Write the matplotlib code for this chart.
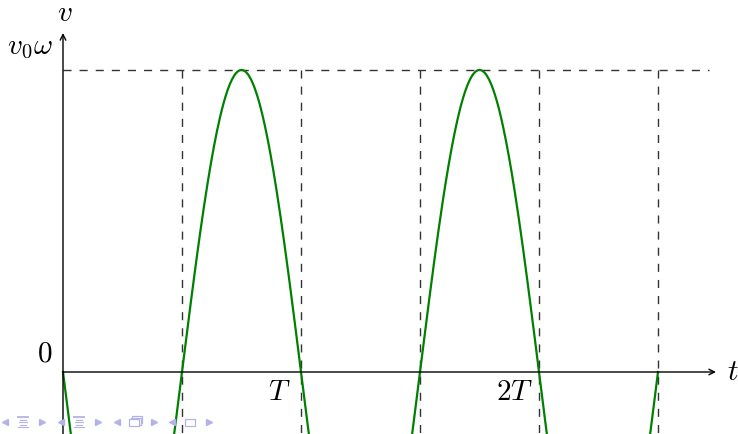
import numpy as np
import matplotlib
matplotlib.use("Agg")
import matplotlib.pyplot as plt
import matplotlib.patches as mpatches

plt.rcParams['mathtext.fontset'] = 'cm'
plt.rcParams['font.family'] = 'serif'
plt.rcParams['font.serif'] = ['DejaVu Serif']

# curve parameters (units: t in T, v in v0*omega)
period = 1.0
amplitude = 1.0
t_end = 2.5
xtick_labels = ["$T$", "$2T$"]
guide_t = [0.5, 1.0, 1.5, 2.0, 2.5]

W, H = 738, 434
ox, oy = 63, 372          # origin in pixels
sx, sy = 238.0, 302.0     # pixels per unit

fig = plt.figure(figsize=(W / 100, H / 100), dpi=100)
ax = fig.add_axes([0, 0, 1, 1])
ax.set_xlim(-ox / sx, (W - ox) / sx)
ax.set_ylim(-(H - oy) / sy, oy / sy)
ax.axis('off')

dash = (0, (5.8, 5.8))
# guides
ax.plot([0, (709 - ox) / sx], [amplitude, amplitude], color='#333333',
        lw=1.0, ls=dash)
for g in guide_t:
    ax.plot([g, g], [amplitude, -0.3], color='#333333', lw=1.0, ls=dash)

# axes with arrows
ax.annotate('', xy=((716 - ox) / sx, 0), xytext=(0, 0),
            arrowprops=dict(arrowstyle='->', lw=1.0, color='black',
                            shrinkA=0, shrinkB=0, mutation_scale=10))
ax.annotate('', xy=(0, (oy - 33) / sy), xytext=(0, -0.3),
            arrowprops=dict(arrowstyle='->', lw=1.0, color='black',
                            shrinkA=0, shrinkB=0, mutation_scale=10))

# curve
t = np.linspace(0, t_end, 600)
v = -amplitude * np.sin(2 * np.pi * t / period)
ax.plot(t, v, color='#008000', lw=1.6)

fs = 21
ax.text(0.008, 1.19, '$v$', fontsize=fs, ha='center', va='center')
ax.text((733 - ox) / sx, 0.0, '$t$', fontsize=fs, ha='center', va='center')
ax.text(-(ox - 53) / sx, (oy - 47) / sy, r'$v_0\omega$', fontsize=fs, ha='right', va='center')
ax.text(-(ox - 52) / sx, (oy - 354) / sy, '$0$', fontsize=fs, ha='right', va='center')
label_x = [(279 - ox) / sx, (515 - ox) / sx]
for lx, lab in zip(label_x, xtick_labels):
    ax.text(lx, -(392 - oy) / sy, lab, fontsize=fs, ha='center', va='center')

# beamer navigation symbols
nav = '#b3b3e6'
def fp(x, y):
    return (x / W, 1 - y / H)

ny = 422
groups = [5, 61, 117, 172]
for i, gx in enumerate(groups):
    for ax_x, mk in [(gx, '<'), (gx + 37, '>')]:
        fig.lines.append(plt.Line2D(*zip(fp(ax_x, ny)), marker=mk, ms=4,
                                    color=nav, mec=nav, transform=fig.transFigure))
    cx = gx + 18
    if i < 2:
        for k, (w, dy) in enumerate([(10, -4), (6, -1.5), (8, 1), (6, 3.5), (10, 6)]):
            x0, y0 = fp(cx - w / 2, ny + dy - 1)
            x1, y1 = fp(cx + w / 2, ny + dy - 1)
            fig.lines.append(plt.Line2D([x0, x1], [y0, y1], color=nav, lw=1.3 if k == 0 else 0.8,
                                        transform=fig.transFigure))
    elif i == 2:
        for ddx, ddy in [(3, -3), (1.5, -1.5), (0, 0)]:
            x0, y0 = fp(cx - 6 + ddx, ny + 4 + ddy)
            fig.patches.append(mpatches.Rectangle((x0, y0), 10 / W, 7 / H, fill=True,
                                                  fc='white', ec=nav, lw=0.9,
                                                  transform=fig.transFigure))
    else:
        x0, y0 = fp(cx - 5, ny + 3.5)
        fig.patches.append(mpatches.Rectangle((x0, y0), 10 / W, 7 / H, fill=False,
                                              ec=nav, lw=0.9, transform=fig.transFigure))

fig.savefig('out.png', dpi=100)
